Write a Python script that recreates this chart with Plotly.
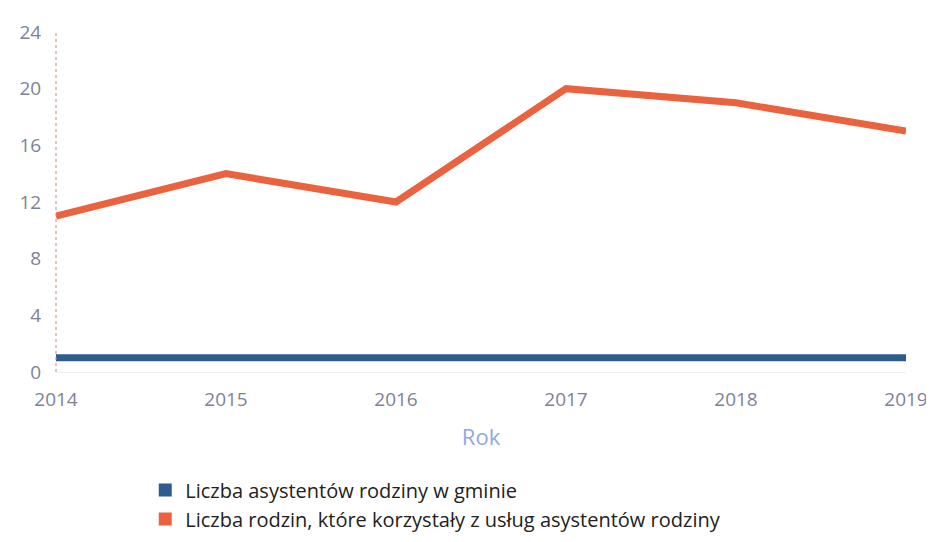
import plotly.graph_objects as go

# ---------------------------------------------------------------------------
# Data
# ---------------------------------------------------------------------------
years = [2014, 2015, 2016, 2017, 2018, 2019]
asystenci = [1, 1, 1, 1, 1, 1]
rodziny = [11, 14, 12, 20, 19, 17]

series_names = [
    "Liczba asystentów rodziny w gminie",
    "Liczba rodzin, które korzystały z usług asystentów rodziny",
]
y_ticks = [0, 4, 8, 12, 16, 20, 24]

C_BLUE = "#2c5d8c"
C_RED = "#e9633f"
FONT = "Open Sans, sans-serif"

fig = go.Figure()

for name, vals, color in zip(series_names, [asystenci, rodziny], [C_BLUE, C_RED]):
    fig.add_trace(
        go.Scatter(
            x=years,
            y=vals,
            mode="lines",
            name=name,
            line=dict(color=color, width=7),
            cliponaxis=False,
            showlegend=False,
            hoverinfo="skip",
        )
    )
    # legend entry drawn as a small square, like the original
    fig.add_trace(
        go.Scatter(
            x=[None],
            y=[None],
            mode="markers",
            name=name,
            marker=dict(color=color, symbol="square", size=13),
            showlegend=True,
        )
    )

# dotted red y axis line
fig.add_shape(
    type="line",
    xref="x domain",
    yref="y domain",
    x0=0,
    x1=0,
    y0=0,
    y1=1,
    line=dict(color="#ee7a6a", width=1, dash="dot"),
)

fig.update_layout(
    width=934,
    height=542,
    margin=dict(l=48, r=36, t=24, b=172),
    paper_bgcolor="white",
    plot_bgcolor="white",
    font=dict(family=FONT, size=19, color="#7d8299"),
    legend=dict(
        x=0.105,
        y=-0.29,
        xanchor="left",
        yanchor="top",
        orientation="v",
        font=dict(family=FONT, size=20, color="#222222"),
        itemwidth=30,
        tracegroupgap=0,
    ),
    xaxis=dict(
        range=[2014, 2019],
        tickmode="array",
        tickvals=years,
        ticktext=[str(y) for y in years],
        showgrid=False,
        zeroline=False,
        showline=True,
        linecolor="#eceef3",
        linewidth=1,
        ticks="outside",
        ticklen=10,
        tickcolor="rgba(0,0,0,0)",
        automargin=False,
        title=dict(text="Rok", font=dict(color="#90a8e6", size=22), standoff=18),
    ),
    yaxis=dict(
        range=[0, 24],
        tickmode="array",
        tickvals=y_ticks,
        showgrid=False,
        zeroline=False,
        showline=False,
        ticks="outside",
        ticklen=10,
        tickcolor="rgba(0,0,0,0)",
        automargin=False,
    ),
)

fig.write_html("out.html")
